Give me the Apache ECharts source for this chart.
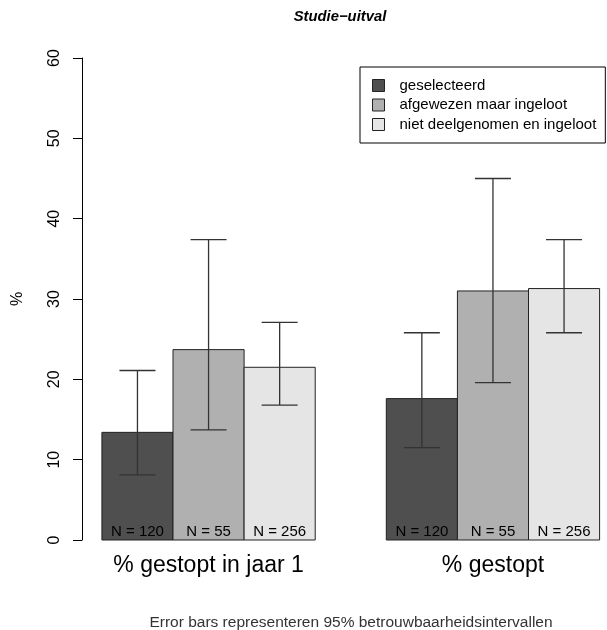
<!DOCTYPE html>
<html>
<head>
<meta charset="utf-8">
<script src="https://cdn.jsdelivr.net/npm/echarts@6/dist/echarts.min.js"></script>
<style>html,body{margin:0;padding:0;background:#fff}#c{width:607px;height:630px}</style>
</head>
<body>
<div id="c"></div>
<script>
var categories = ['% gestopt in jaar 1', '% gestopt'];
var seriesNames = ['geselecteerd', 'afgewezen maar ingeloot', 'niet deelgenomen en ingeloot'];
var valGeselecteerd = [13.4, 17.6];
var valAfgewezen = [23.7, 31.0];
var valNiet = [21.5, 31.3];
var loGeselecteerd = [8.1, 11.5];
var loAfgewezen = [13.7, 19.6];
var loNiet = [16.8, 25.8];
var hiGeselecteerd = [21.1, 25.8];
var hiAfgewezen = [37.4, 45.0];
var hiNiet = [27.1, 37.4];
var nGeselecteerd = [120, 120];
var nAfgewezen = [55, 55];
var nNiet = [256, 256];
var yTicks = [0, 10, 20, 30, 40, 50, 60];

var colors = ['#4f4f4f', '#b0b0b0', '#e5e5e5'];
var FONT = '"Liberation Sans", Arial, Helvetica, sans-serif';
var vals = [valGeselecteerd, valAfgewezen, valNiet];
var los = [loGeselecteerd, loAfgewezen, loNiet];
var his = [hiGeselecteerd, hiAfgewezen, hiNiet];
var ns = [nGeselecteerd, nAfgewezen, nNiet];

function makeSeries(j) {
  var data = categories.map(function (c, g) {
    return [g, vals[j][g], los[j][g], his[j][g], ns[j][g]];
  });
  return {
    type: 'custom',
    name: seriesNames[j],
    itemStyle: { color: colors[j], borderColor: '#222', borderWidth: 1 },
    data: data,
    clip: false,
    renderItem: function (params, api) {
      var g = api.value(0), v = api.value(1), lo = api.value(2), hi = api.value(3), n = api.value(4);
      var xl = 1 + g * 4 + j;
      var p0 = api.coord([xl, v]);
      var p1 = api.coord([xl + 1, 0]);
      var cx = api.coord([xl + 0.5, 0])[0];
      var ph = api.coord([xl + 0.5, hi])[1];
      var pl = api.coord([xl + 0.5, lo])[1];
      var cap = 18;
      var es = { stroke: '#333', lineWidth: 1.3 };
      return {
        type: 'group',
        children: [
          { type: 'rect', shape: { x: p0[0], y: p0[1], width: p1[0] - p0[0], height: p1[1] - p0[1] },
            style: { fill: colors[j], stroke: '#222', lineWidth: 1 } },
          { type: 'line', shape: { x1: cx, y1: ph, x2: cx, y2: pl }, style: es },
          { type: 'line', shape: { x1: cx - cap, y1: ph, x2: cx + cap, y2: ph }, style: es },
          { type: 'line', shape: { x1: cx - cap, y1: pl, x2: cx + cap, y2: pl }, style: es },
          { type: 'text', x: cx, y: p1[1] - 1,
            style: { text: 'N = ' + n, textAlign: 'center', textVerticalAlign: 'bottom',
                     font: '15px ' + FONT, fill: '#000' } }
        ]
      };
    }
  };
}

var series = [makeSeries(0), makeSeries(1), makeSeries(2)];
series.push({
  type: 'custom',
  name: 'cats',
  silent: true,
  clip: false,
  data: categories.map(function (c, g) { return [g]; }),
  renderItem: function (params, api) {
    var g = api.value(0);
    var p = api.coord([1 + g * 4 + 1.5, 0]);
    return { type: 'text', x: p[0], y: p[1] + 26,
      style: { text: categories[g], textAlign: 'center', textVerticalAlign: 'middle',
               font: '23px ' + FONT, fill: '#000' } };
  }
});

var chart = echarts.init(document.getElementById('c'), null, { renderer: 'canvas' });
chart.setOption({
  animation: false,
  backgroundColor: '#fff',
  title: [
    { text: 'Studie\u2212uitval', left: 340, top: 9, textAlign: 'center', padding: 0,
      textStyle: { fontFamily: FONT, fontSize: 14.8, fontWeight: 'bold', fontStyle: 'italic', color: '#000' } },
    { text: 'Error bars representeren 95% betrouwbaarheidsintervallen', left: 351, top: 615, textAlign: 'center', padding: 0,
      textStyle: { fontFamily: FONT, fontSize: 15.5, fontWeight: 'normal', color: '#333' } }
  ],
  legend: {
    data: seriesNames,
    orient: 'vertical',
    left: 360, top: 67,
    padding: [11, 9, 11, 12],
    itemGap: 4.5,
    itemWidth: 12, itemHeight: 12,
    icon: 'rect',
    borderColor: '#000', borderWidth: 1, borderRadius: 0,
    selectedMode: false,
    itemStyle: { borderColor: '#222', borderWidth: 1 },
    textStyle: { fontFamily: FONT, fontSize: 15, color: '#000', lineHeight: 14, padding: [0, 0, 0, 10] }
  },
  grid: { left: 82, right: 0, top: 58, bottom: 90, containLabel: false },
  xAxis: { type: 'value', min: 0.72, max: 8.104, show: false },
  yAxis: {
    type: 'value', min: yTicks[0], max: yTicks[yTicks.length - 1], interval: 10,
    name: '%', nameLocation: 'middle', nameGap: 56, nameRotate: 90,
    nameTextStyle: { fontFamily: FONT, fontSize: 16, color: '#000' },
    axisLine: { show: true, lineStyle: { color: '#000', width: 1 } },
    axisTick: { show: true, length: 9, lineStyle: { color: '#000', width: 1 } },
    splitLine: { show: false },
    axisLabel: { rotate: 90, margin: 19, fontFamily: FONT, fontSize: 16, color: '#000' }
  },
  series: series
});
</script>
</body>
</html>
